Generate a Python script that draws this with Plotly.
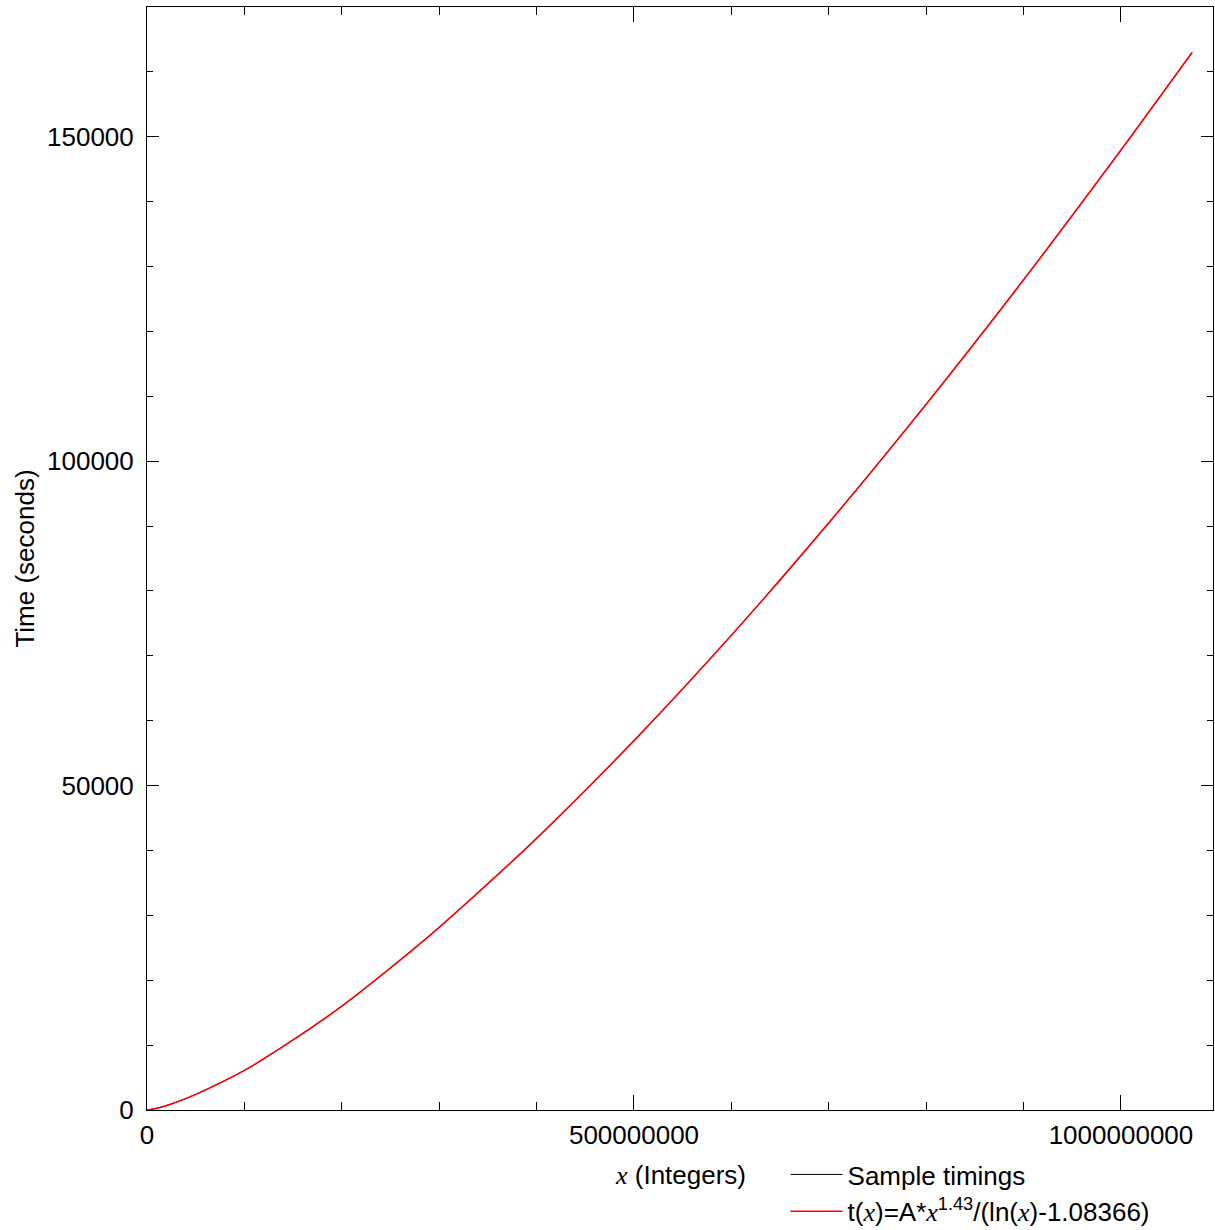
import plotly.graph_objects as go

# values
x_vals = [0, 1e7, 2.5e7, 5e7, 1e8, 1.5e8, 2e8, 2.5e8, 3e8, 4e8, 5e8, 6e8, 7e8, 8e8, 9e8, 1e9, 1.073e9]
sample_t = [0, 270, 930, 2400, 6100, 10800, 16000, 21900, 28150, 41870, 56930, 73170, 90490, 108780, 127950, 147970, 163000]
fit_t = [0, 270, 930, 2410, 6100, 10800, 16000, 21900, 28150, 41870, 56930, 73170, 90490, 108780, 127950, 147970, 163000]

x_ticks = [0, 500000000, 1000000000]
y_ticks = [0, 50000, 100000, 150000]

XI = '<span style="font-family:Liberation Serif;font-style:italic">x</span>'
FONT = "Liberation Sans, Arial, sans-serif"

fig = go.Figure()
fig.add_trace(go.Scatter(x=x_vals, y=sample_t, mode="lines", name="Sample timings",
                         line=dict(color="black", width=1, shape="spline", smoothing=0.8)))
fig.add_trace(go.Scatter(x=x_vals, y=fit_t, mode="lines",
                         name=f"t({XI})=A*{XI}<sup>1.43</sup>/(ln({XI})-1.08366)",
                         line=dict(color="#ff0000", width=1.6, shape="spline", smoothing=0.8)))

fig.update_layout(
    width=1215, height=1230,
    margin=dict(l=147, r=2, t=7, b=120, autoexpand=False),
    paper_bgcolor="white", plot_bgcolor="white",
    font=dict(family=FONT, size=26, color="black"),
    showlegend=True,
    legend=dict(x=0.599, xanchor="left", yref="container", y=0.0642, yanchor="top",
                bgcolor="rgba(0,0,0,0)", font=dict(size=26), tracegroupgap=0,
                itemwidth=52),
    xaxis=dict(range=[0, 1.0945e9], tickvals=x_ticks, ticktext=[str(v) for v in x_ticks],
               automargin=False,
               showgrid=False, zeroline=False, showline=True, linecolor="black", linewidth=1,
               mirror="allticks", ticks="inside", ticklen=15, tickcolor="black", tickwidth=1,
               minor=dict(dtick=1e8, ticks="inside", ticklen=8, tickcolor="black", showgrid=False),
               ticklabelstandoff=2),
    yaxis=dict(range=[0, 170000], tickvals=y_ticks, ticktext=[str(v) for v in y_ticks],
               automargin=False,
               showgrid=False, zeroline=False, showline=True, linecolor="black", linewidth=1,
               mirror="allticks", ticks="inside", ticklen=12, tickcolor="black", tickwidth=1,
               minor=dict(dtick=10000, ticks="inside", ticklen=6, tickcolor="black", showgrid=False),
               ticklabelstandoff=7,
               title=dict(text="Time (seconds)", standoff=4, font=dict(size=26))),
    annotations=[dict(text=f"{XI} (Integers)", x=0.5, xref="paper", xanchor="center",
                      y=-0.0589, yref="paper", yanchor="middle", showarrow=False,
                      font=dict(size=26))],
)

fig.write_html("out.html", config={"displayModeBar": False},
               post_script="document.body.style.margin='0';document.body.style.overflow='hidden';")
